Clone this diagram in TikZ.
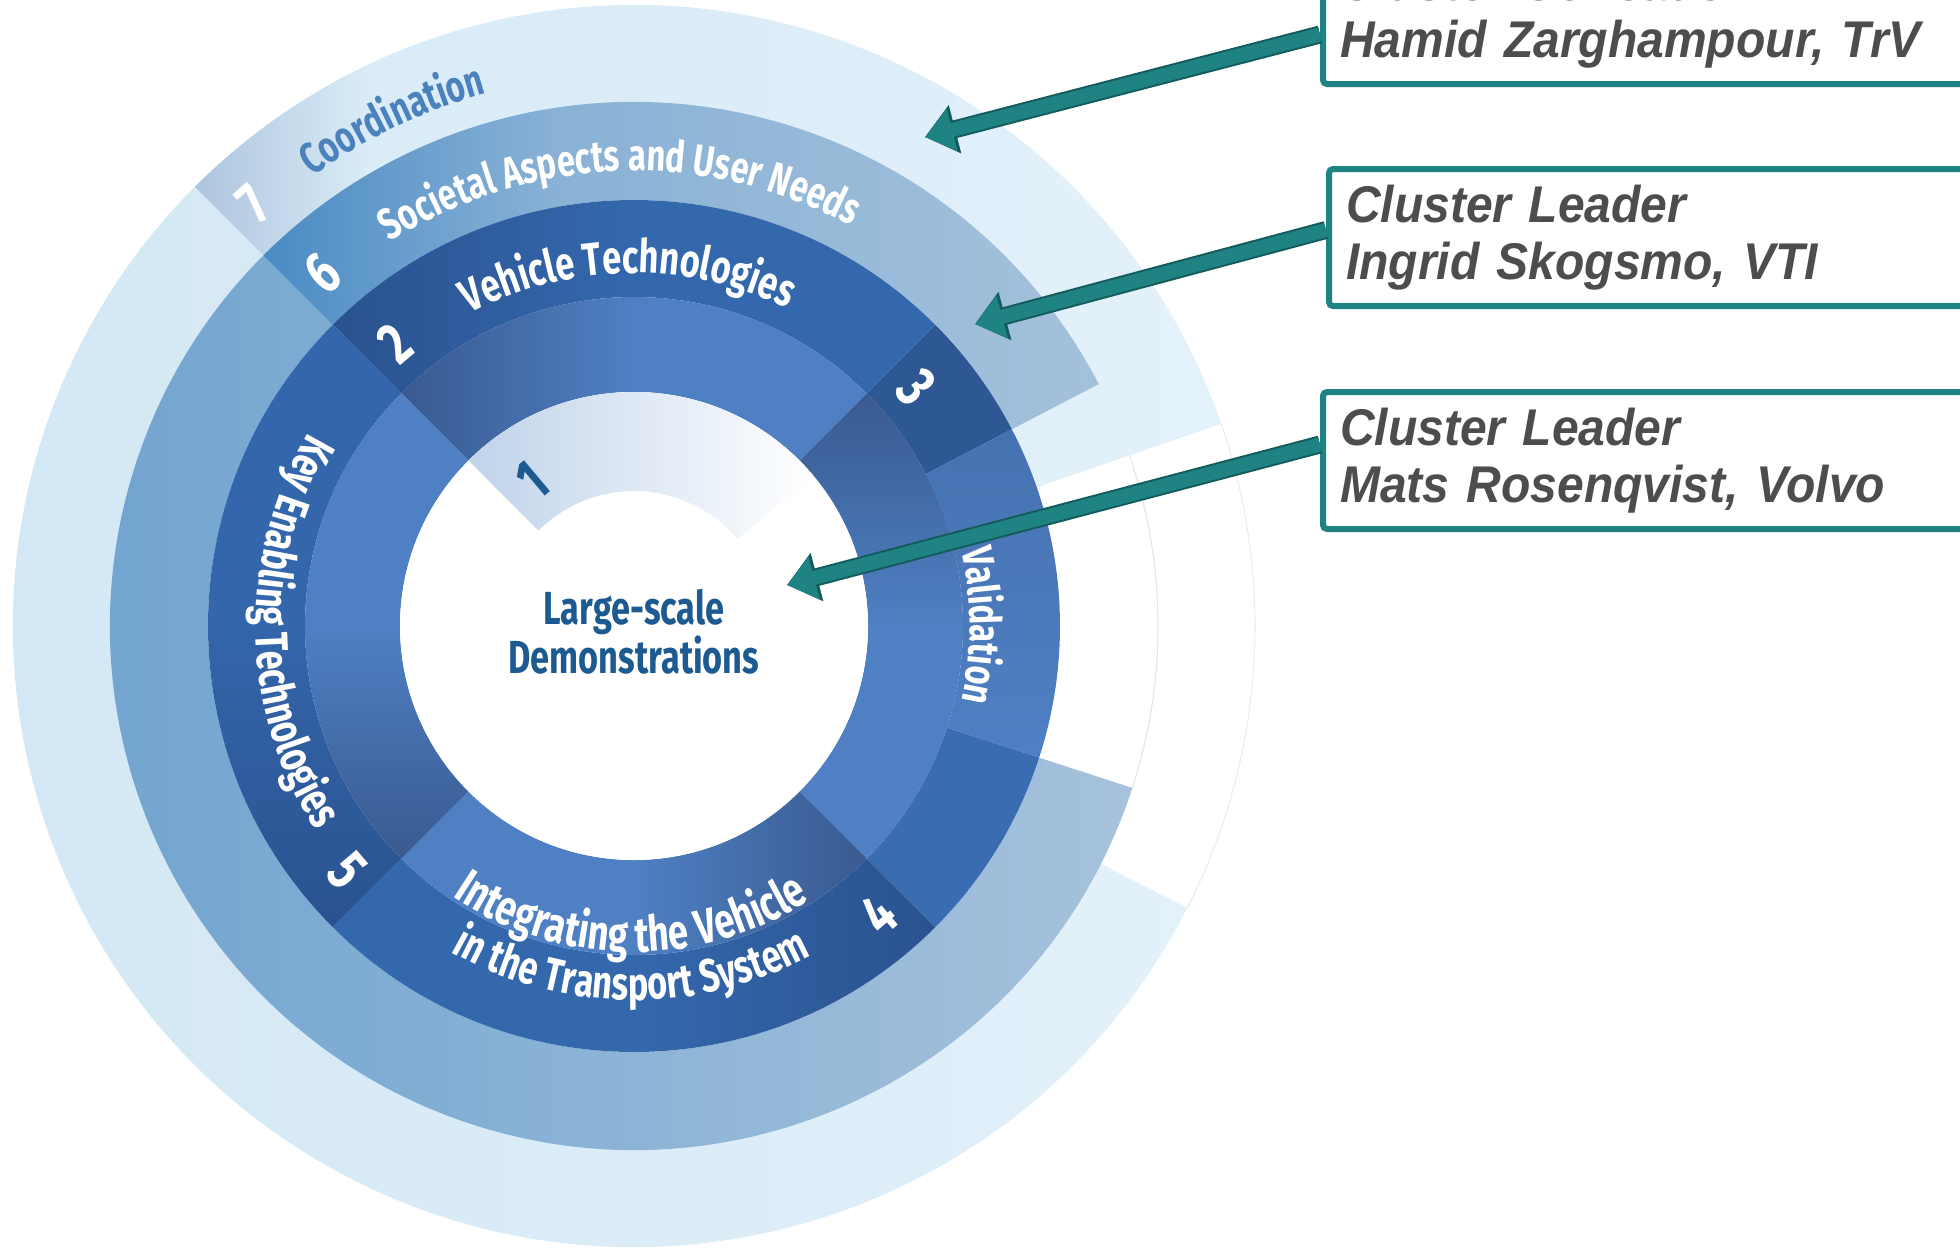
\documentclass[tikz,border=0pt]{standalone}
\usepackage{fontspec}
\usetikzlibrary{arrows.meta,decorations.text}
\newfontfamily\condfont[FakeStretch=0.74]{Fira Sans}
\newfontfamily\leadfont[FakeStretch=0.93]{Liberation Sans}
\definecolor{ringsev}{HTML}{D2E7F4}
\definecolor{ringsevr}{HTML}{E3F1FA}
\definecolor{ringsevm}{HTML}{DAECF7}
\definecolor{coordpatch}{HTML}{ADC4DE}
\definecolor{ringsix}{HTML}{6FA3CF}
\definecolor{ringsixr}{HTML}{A6C2DC}
\definecolor{ringsixm}{HTML}{8AB2D6}
\definecolor{sixpatch}{HTML}{4A8BC4}
\definecolor{bandbase}{HTML}{3468AD}
\definecolor{bandleft}{HTML}{3366AA}
\definecolor{banddark}{HTML}{2A528F}
\definecolor{bandthree}{HTML}{2E5893}
\definecolor{bandlow}{HTML}{3A6CB1}
\definecolor{validtop}{HTML}{4672B1}
\definecolor{validbot}{HTML}{4F80C3}
\definecolor{innerlight}{HTML}{4F80C3}
\definecolor{innerdark}{HTML}{395A90}
\definecolor{onepatch}{HTML}{C0D3EA}
\definecolor{demoblue}{HTML}{1D5A92}
\definecolor{coordblue}{HTML}{4B82BC}
\definecolor{boxteal}{HTML}{1F8383}
\definecolor{arrowdark}{HTML}{145C5C}
\definecolor{leadgray}{HTML}{4D4D4D}
\newcommand{\ringpart}[4]{(#1:#3) arc[start angle=#1,end angle=#2,radius=#3] -- (#2:#4) arc[start angle=#2,end angle=#1,radius=#4] -- cycle}
\newcommand{\bandfont}{\condfont\bfseries\fontsize{13.2}{15}\selectfont\color{white}}
\newcommand{\bandfontsm}{\condfont\bfseries\fontsize{12.5}{14}\selectfont\color{white}}
\newcommand{\bandfontlg}{\condfont\bfseries\fontsize{14}{16}\selectfont\color{white}}
\tikzset{
  num/.style={text=white, font=\condfont\bfseries\fontsize{17}{18}\selectfont, inner sep=0pt},
  leader/.style={draw=boxteal, line width=0.06cm, fill=white, rounded corners=0.04cm, anchor=north west,
    minimum height=1.37cm, text width=6.8cm, inner xsep=0.17cm, inner ysep=0pt, align=left,
    text=leadgray, font=\leadfont\bfseries\itshape\fontsize{14.7}{16.2}\selectfont},
  pointer/.style={draw=boxteal, line width=0.14cm, -{Triangle[length=0.28cm,width=0.42cm]},
    preaction={draw=arrowdark, line width=0.18cm, arrows=-{Triangle[length=0.31cm,width=0.48cm]}}}
}
\begin{document}
\begin{tikzpicture}
\useasboundingbox (0,0) rectangle (19.6,-12.47);

\begin{scope}[shift={(6.34,-6.26)}]
        % rings 7 and 6
        \shade[left color=ringsev, right color=ringsevr] \ringpart{19}{333}{4.26}{6.21};
        \shade[left color=coordpatch, right color=ringsevm, middle color=ringsevm] \ringpart{100}{135}{5.24}{6.21};
        \shade[left color=ringsix, right color=ringsixr] \ringpart{27.5}{342}{4.26}{5.24};
        \shade[left color=sixpatch, right color=ringsixm] \ringpart{100}{135}{4.26}{5.24};
        \draw[gray!22, line width=0.3pt] (-18:5.24) arc[start angle=-18, end angle=19, radius=5.24];
        \draw[gray!15, line width=0.3pt] (-27:6.21) arc[start angle=-27, end angle=19, radius=6.21];

        % outer band of the disk
        \shade[left color=banddark, right color=bandbase, middle color=bandbase] \ringpart{45}{135}{3.29}{4.26};
        \fill[bandthree] \ringpart{27.5}{45}{3.29}{4.26};
        \shade[top color=validtop, bottom color=validbot] \ringpart{-18}{27.5}{3.29}{4.26};
        \fill[bandlow] \ringpart{-45}{-18}{3.29}{4.26};
        \shade[left color=bandbase, right color=banddark, middle color=bandbase] \ringpart{225}{315}{3.29}{4.26};
        \shade[top color=bandleft, bottom color=banddark, middle color=bandleft] \ringpart{135}{225}{3.29}{4.26};

        % inner band
        \shade[left color=innerdark, right color=innerlight, middle color=innerlight] \ringpart{45}{135}{2.34}{3.29};
        \shade[top color=innerdark, bottom color=innerlight, middle color=innerlight] \ringpart{-45}{45}{2.34}{3.29};
        \shade[left color=innerlight, right color=innerdark, middle color=innerlight] \ringpart{225}{315}{2.34}{3.29};
        \shade[top color=innerlight, bottom color=innerdark, middle color=innerlight] \ringpart{135}{225}{2.34}{3.29};

        \fill[white] (0,0) circle[radius=2.34];
        \shade[left color=onepatch, right color=white] \ringpart{40}{135}{1.35}{2.34};

        % labels on the rings
        \path[decorate, decoration={text along path, text align=center,
          text={|\condfont\bfseries\fontsize{12.5}{14}\selectfont\color{coordblue}|Coordination}}]
          (140:5.53) arc[start angle=140, end angle=91, radius=5.53];
        \path[decorate, decoration={text along path, text align=center,
          text={|\bandfontsm|Societal Aspects and User Needs}}]
          (152:4.55) arc[start angle=152, end angle=32, radius=4.55];
        \path[decorate, decoration={text along path, text align=center,
          text={|\bandfont|Vehicle Technologies}}]
          (146:3.53) arc[start angle=146, end angle=36, radius=3.53];
        \path[decorate, decoration={text along path, text align=center,
          text={|\bandfontsm|Validation}}]
          (35:3.36) arc[start angle=35, end angle=-35, radius=3.36];
        \path[decorate, decoration={text along path, text align=center,
          text={|\bandfont|Key Enabling Technologies}}]
          (121:3.78) arc[start angle=121, end angle=241, radius=3.78];
        \path[decorate, decoration={text along path, text align=center,
          text={|\bandfontlg|Integrating the Vehicle}}]
          (219.4:3.26) arc[start angle=219.4, end angle=319.4, radius=3.26];
        \path[decorate, decoration={text along path, text align=center,
          text={|\bandfont|in the Transport System}}]
          (209.5:3.74) arc[start angle=209.5, end angle=329.5, radius=3.74];

        \foreach \n/\a/\r/\t in {7/132/5.68/42, 6/131.4/4.70/41, 2/130.3/3.70/40,
          3/40.2/3.69/-50, 4/-49.7/3.79/40.3, 5/220.5/3.77/-49.5}
          \node[num, rotate=\t] (n\n) at (\a:\r) {\n};
        \node[num, text=demoblue, rotate=40] (n1) at (125:1.78) {1};

        \node[align=center, text=demoblue, font=\condfont\bfseries\fontsize{13.2}{14}\selectfont]
          (demo) at (0,-0.06) {Large-scale\\Demonstrations};
\end{scope}

\node[leader] (b1) at (13.20,0.56) {Cluster Co-leader\\Hamid Zarghampour, TrV};
\node[leader] (b2) at (13.26,-1.66) {Cluster Leader\\Ingrid Skogsmo, VTI};
\node[leader] (b3) at (13.20,-3.89) {Cluster Leader\\Mats Rosenqvist, Volvo};

\coordinate (t1) at (9.25,-1.37);
\coordinate (t2) at (9.75,-3.24);
\coordinate (t3) at (7.87,-5.85);
\draw[pointer] ([yshift=-0.19cm]b1.west) -- (t1);
\draw[pointer] ([yshift=0.075cm]b2.west) -- (t2);
\draw[pointer] ([yshift=0.16cm]b3.west) -- (t3);
\end{tikzpicture}
\end{document}
